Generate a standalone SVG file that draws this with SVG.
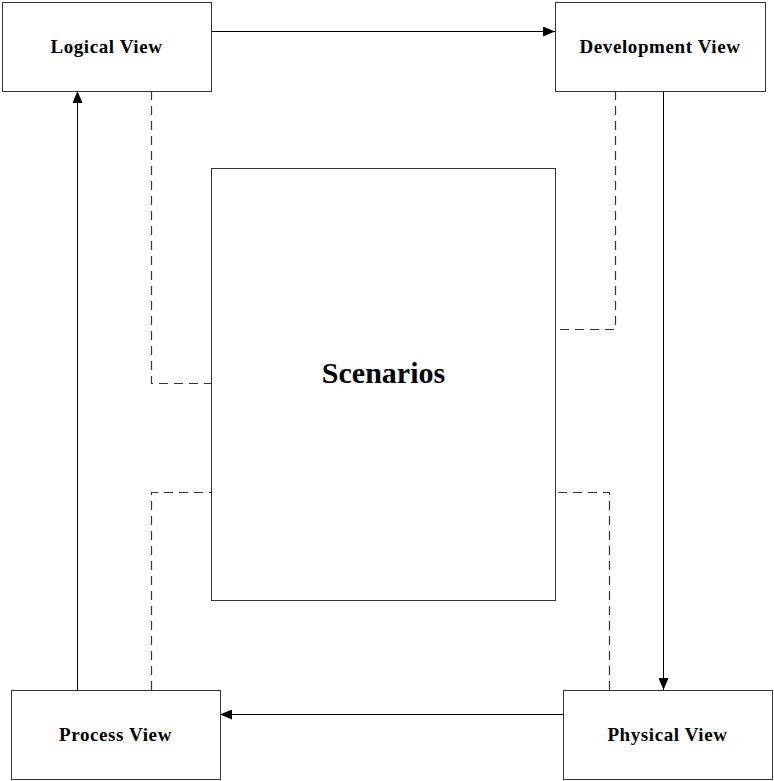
<svg xmlns="http://www.w3.org/2000/svg" width="774" height="781" viewBox="0 0 774 781">
<defs>
<style>
.box{fill:#fff;stroke:#333;stroke-width:1}
.lbl{font-family:"Liberation Serif",serif;font-weight:bold;font-size:19px;letter-spacing:0.6px;text-anchor:middle;fill:#000}
.big{font-family:"Liberation Serif",serif;font-weight:bold;font-size:30px;text-anchor:middle;fill:#000}
.arr{fill:none;stroke:#000;stroke-width:1}
.dash{fill:none;stroke:#333;stroke-width:1.2;stroke-dasharray:9,6}
</style>
<marker id="ah" viewBox="0 0 12 10" refX="12" refY="5" markerWidth="12" markerHeight="10" markerUnits="userSpaceOnUse" orient="auto">
<path d="M0,0 L12,5 L0,10 Z" fill="#000"/>
</marker>
</defs>
<rect width="774" height="781" fill="#fff"/>
<g id="connectors">
<line class="arr" x1="211" y1="31.5" x2="555" y2="31.5" marker-end="url(#ah)"/>
<line class="arr" x1="663.5" y1="91" x2="663.5" y2="690" marker-end="url(#ah)"/>
<line class="arr" x1="563" y1="714.5" x2="220" y2="714.5" marker-end="url(#ah)"/>
<line class="arr" x1="77.5" y1="690" x2="77.5" y2="91" marker-end="url(#ah)"/>
<polyline class="dash" points="151.5,91 151.5,383.5 211,383.5"/>
<polyline class="dash" points="151.5,690 151.5,492.5 211,492.5"/>
<polyline class="dash" points="615.5,91 615.5,329.5 558,329.5"/>
<polyline class="dash" points="609.5,690 609.5,492.5 558,492.5"/>
</g>
<g id="scenarios">
<rect class="box" x="211.5" y="168.5" width="344" height="432"/>
<text class="big" x="383.5" y="383">Scenarios</text>
</g>
<g id="logical">
<rect class="box" x="2.5" y="2.5" width="209" height="89"/>
<text class="lbl" x="106.5" y="53">Logical View</text>
</g>
<g id="development">
<rect class="box" x="555.5" y="2.5" width="210" height="89"/>
<text class="lbl" x="660" y="53">Development View</text>
</g>
<g id="process">
<rect class="box" x="11.5" y="690.5" width="209" height="89"/>
<text class="lbl" x="115.5" y="741">Process View</text>
</g>
<g id="physical">
<rect class="box" x="563.5" y="690.5" width="209" height="89"/>
<text class="lbl" x="667.5" y="741">Physical View</text>
</g>
</svg>
